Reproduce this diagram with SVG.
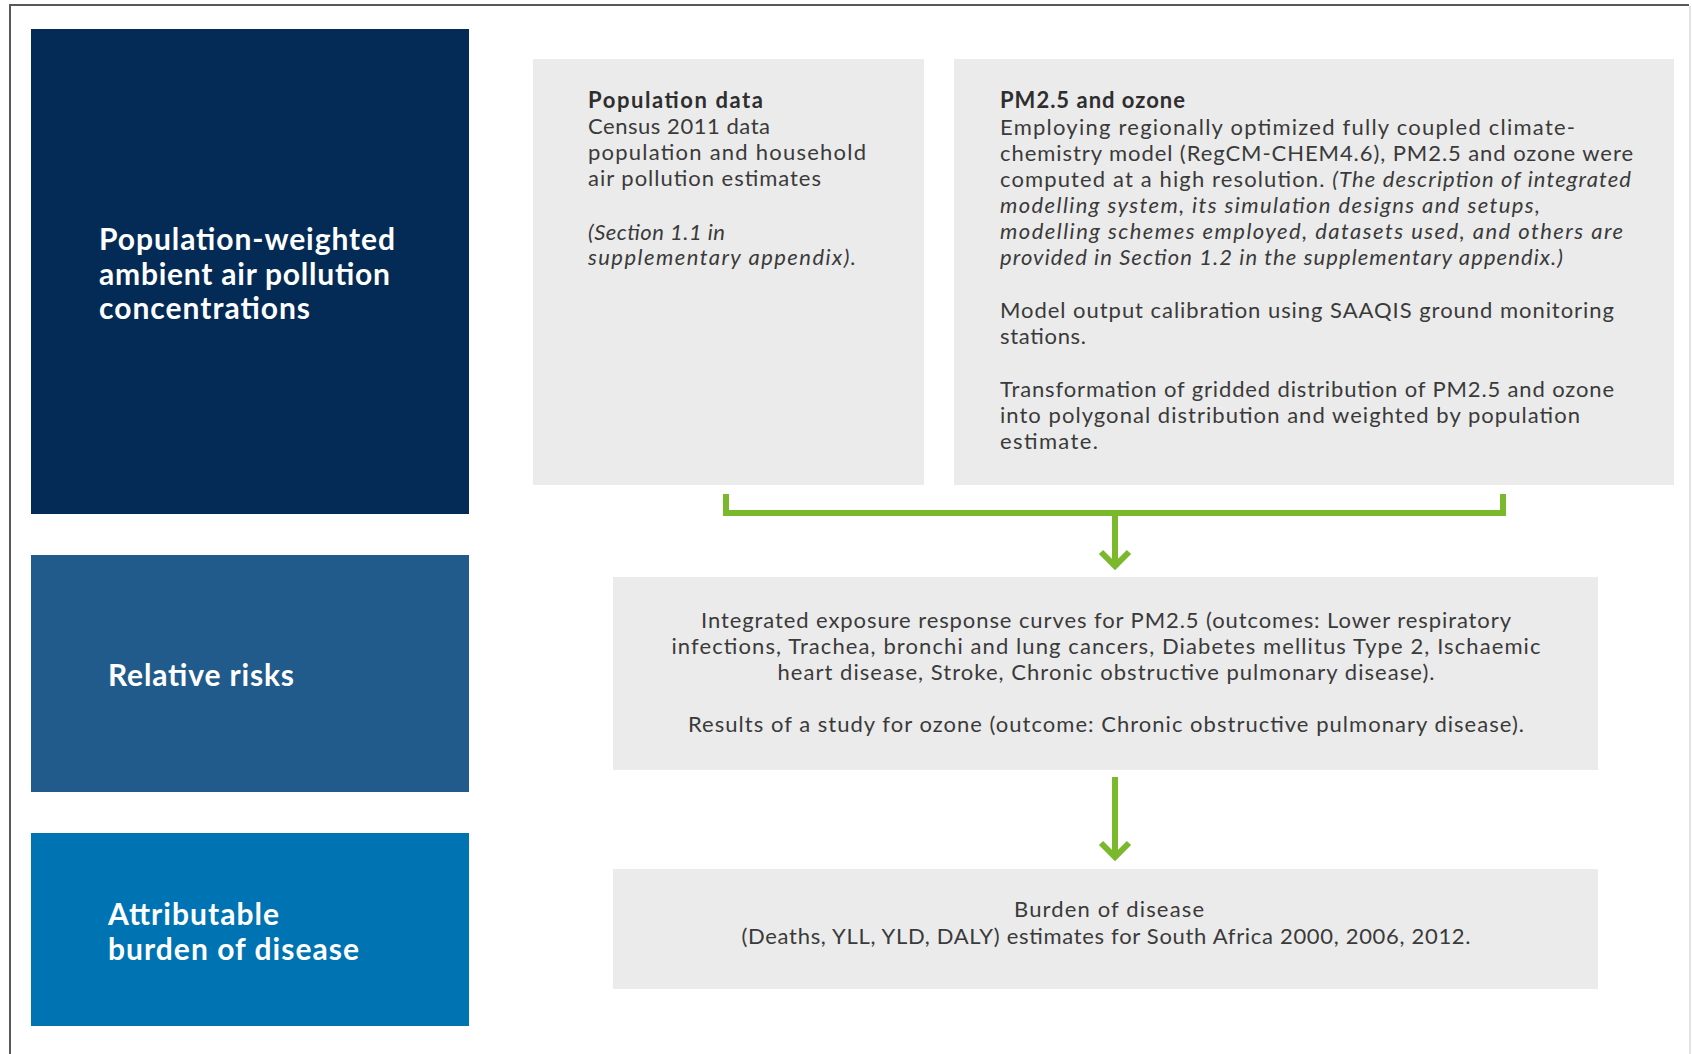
<svg xmlns="http://www.w3.org/2000/svg" width="1692" height="1054" viewBox="0 0 1692 1054">
  <style>
    .frame { stroke: #585858; stroke-width: 2; fill: none; }
    .stage { fill: #ffffff; }
    .head { font-family: Lato, "Open Sans", "Liberation Sans", sans-serif; font-weight: 700; font-size: 30px; fill: #ffffff; }
    .body { font-family: Lato, "Open Sans", "Liberation Sans", sans-serif; font-size: 22px; fill: #3a3a3a; }
    .bold { font-weight: 700; fill: #2e2e2e; }
    .it { font-style: italic; }
    .mid { text-anchor: middle; }
    .panel { fill: #ebebeb; }
    .flow { stroke: #7ab82c; stroke-width: 6; fill: none; }
    .tip { stroke: #7ab82c; stroke-width: 6; fill: none; stroke-linecap: butt; stroke-linejoin: miter; }
  </style>

  <rect class="stage" x="0" y="0" width="1692" height="1054"/>

  <!-- page frame -->
  <path class="frame" d="M10,1054 V5 H1689"/>
  <line x1="1690" y1="6" x2="1690" y2="1054" stroke="#e2e2e2" stroke-width="2"/>

  <!-- stage labels (left column) -->
  <g id="stage-exposure">
    <rect x="31" y="29" width="438" height="485" fill="#032b56"/>
    <text class="head" x="99" y="250" textLength="296">Population-weighted</text>
    <text class="head" x="99" y="285" textLength="291">ambient air pollution</text>
    <text class="head" x="99" y="319" textLength="211">concentrations</text>
  </g>

  <g id="stage-risks">
    <rect x="31" y="555" width="438" height="237" fill="#215b8c"/>
    <text class="head" x="108" y="686" textLength="186">Relative risks</text>
  </g>

  <g id="stage-burden">
    <rect x="31" y="833" width="438" height="193" fill="#0073b3"/>
    <text class="head" x="108" y="925" textLength="171">Attributable</text>
    <text class="head" x="108" y="960" textLength="251">burden of disease</text>
  </g>

  <!-- input panels -->
  <g id="population-data">
    <rect class="panel" x="533" y="59" width="391" height="426"/>
    <text class="body bold" x="588" y="108" textLength="175">Population data</text>
    <text class="body" x="588" y="134" textLength="182">Census 2011 data</text>
    <text class="body" x="588" y="160" textLength="278">population and household</text>
    <text class="body" x="588" y="186" textLength="233">air pollution estimates</text>
    <text class="body it" x="588" y="240" textLength="137">(Section 1.1 in</text>
    <text class="body it" x="588" y="265" textLength="268">supplementary appendix).</text>
  </g>

  <g id="pm25-ozone">
    <rect class="panel" x="954" y="59" width="720" height="426"/>
    <text class="body bold" x="1000" y="108" textLength="185">PM2.5 and ozone</text>
    <text class="body" x="1000" y="135" textLength="575">Employing regionally optimized fully coupled climate-</text>
    <text class="body" x="1000" y="161" textLength="633">chemistry model (RegCM-CHEM4.6), PM2.5 and ozone were</text>
    <text class="body" x="1000" y="187" textLength="631">computed at a high resolution. <tspan class="it">(The description of integrated</tspan></text>
    <text class="body it" x="1000" y="213" textLength="540">modelling system, its simulation designs and setups,</text>
    <text class="body it" x="1000" y="239" textLength="623">modelling schemes employed, datasets used, and others are</text>
    <text class="body it" x="1000" y="265" textLength="563">provided in Section 1.2 in the supplementary appendix.)</text>
    <text class="body" x="1000" y="318" textLength="614">Model output calibration using SAAQIS ground monitoring</text>
    <text class="body" x="1000" y="344" textLength="86">stations.</text>
    <text class="body" x="1000" y="397" textLength="614">Transformation of gridded distribution of PM2.5 and ozone</text>
    <text class="body" x="1000" y="423" textLength="580">into polygonal distribution and weighted by population</text>
    <text class="body" x="1000" y="449" textLength="98">estimate.</text>
  </g>

  <g id="exposure-response">
    <rect class="panel" x="613" y="577" width="985" height="193"/>
    <text class="body mid" x="1106" y="628" textLength="810">Integrated exposure response curves for PM2.5 (outcomes: Lower respiratory</text>
    <text class="body mid" x="1106" y="654" textLength="869">infections, Trachea, bronchi and lung cancers, Diabetes mellitus Type 2, Ischaemic</text>
    <text class="body mid" x="1106" y="680" textLength="657">heart disease, Stroke, Chronic obstructive pulmonary disease).</text>
    <text class="body mid" x="1106" y="732" textLength="836">Results of a study for ozone (outcome: Chronic obstructive pulmonary disease).</text>
  </g>

  <g id="burden-estimates">
    <rect class="panel" x="613" y="869" width="985" height="120"/>
    <text class="body mid" x="1109" y="917" textLength="190">Burden of disease</text>
    <text class="body mid" x="1106" y="944" textLength="729">(Deaths, YLL, YLD, DALY) estimates for South Africa 2000, 2006, 2012.</text>
  </g>

  <!-- connectors -->
  <g id="connectors">
    <path class="flow" d="M726,494 V513 H1503 V494"/>
    <path class="flow" d="M1115,513 V566"/>
    <path class="tip" d="M1101,552 L1115,566 L1129,552"/>
    <path class="flow" d="M1115,777 V857"/>
    <path class="tip" d="M1101,843 L1115,857 L1129,843"/>
  </g>
</svg>
